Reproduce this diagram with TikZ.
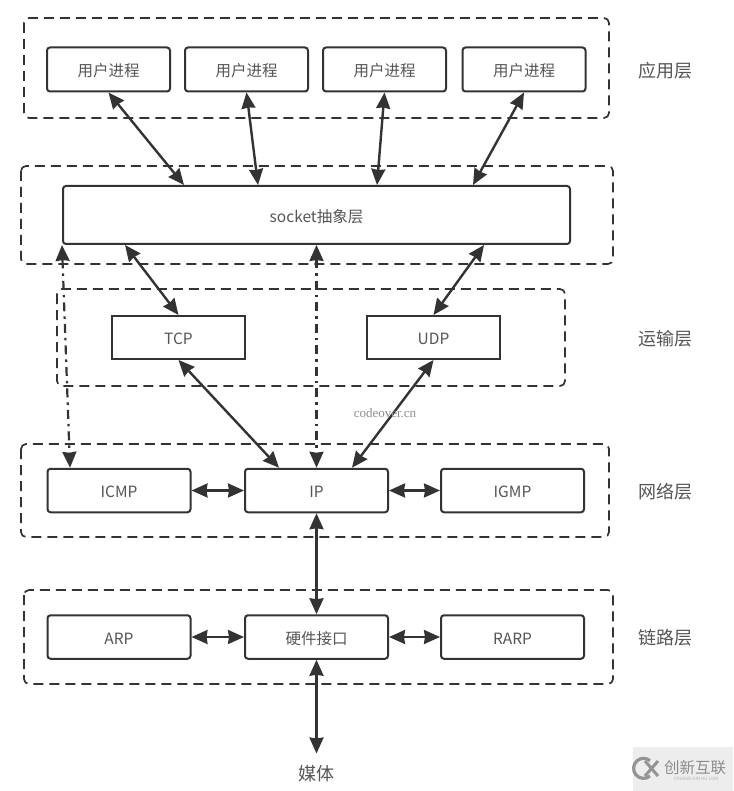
\documentclass[tikz,border=0pt]{standalone}
\usepackage{fontspec}
\setmainfont{Noto Sans CJK SC}
\newfontfamily\wmserif{Liberation Serif}
\usetikzlibrary{arrows.meta}
\definecolor{ink}{HTML}{333333}
\definecolor{txt}{HTML}{555555}
\tikzset{
  x=1pt,y=-1pt,
  box/.style={draw=ink,line width=2pt,rounded corners=3pt,inner sep=0pt,text=txt,font=\fontsize{15.5}{18}\selectfont,text height=15pt,text depth=0.5pt},
  sqbox/.style={box,rounded corners=0pt},
  wide/.style={box,minimum width=143pt,minimum height=43.5pt},
  proc/.style={box,minimum width=123pt,minimum height=44pt},
  trans/.style={sqbox,minimum width=133pt,minimum height=43pt},
  group/.style={draw=ink,line width=1.7pt,rounded corners=5pt,dash pattern=on 10pt off 6pt},
  layer/.style={text=txt,font=\fontsize{18}{21}\selectfont,inner sep=0pt},
  headtip/.tip={Stealth[inset=1pt,length=16pt,width=14pt,fill=ink]},
  biarrow/.style={draw=ink,line width=2.4pt,headtip-headtip},
  dotarrow/.style={biarrow,dash pattern=on 9pt off 5pt on 2.5pt off 5pt,line width=2.2pt},
}
\begin{document}
\begin{tikzpicture}
\useasboundingbox (0,0) rectangle (733,791);
% layer groups
\draw[group] (24,18) rectangle (609,118);
\draw[group] (21,166) rectangle (613,264);
\draw[group] (57,289) rectangle (565,386);
\draw[group] (21,444) rectangle (609,537);
\draw[group] (24,590) rectangle (613,684);
% nodes
\node[proc] (u1) at (108.5,69.5) {用户进程};
\node[proc] (u2) at (246.5,69.5) {用户进程};
\node[proc] (u3) at (384.5,69.5) {用户进程};
\node[proc] (u4) at (524,69.5) {用户进程};
\node[box,minimum width=507pt,minimum height=58pt] (sock) at (316.5,215) {socket抽象层};
\node[trans] (tcp) at (178.5,337.5) {TCP};
\node[trans] (udp) at (433.5,337.5) {UDP};
\node[wide] (icmp) at (119,490.5) {ICMP};
\node[wide] (ip) at (316.5,490.5) {IP};
\node[wide] (igmp) at (512.5,490.5) {IGMP};
\node[wide] (arp) at (119,637) {ARP};
\node[wide] (hw) at (316.5,637) {硬件接口};
\node[wide] (rarp) at (512.5,637) {RARP};
\node[layer] (media) at (316.5,774) {媒体};
\node[layer] (l1) at (665,71) {应用层};
\node[layer] (l2) at (665,339) {运输层};
\node[layer] (l3) at (665,492) {网络层};
\node[layer] (l4) at (665,638) {链路层};
% connectors
\draw[biarrow] (u1.south) -- ([xshift=-132.5pt]sock.north);
\draw[biarrow] (u2.south) -- ([xshift=-58.5pt]sock.north);
\draw[biarrow] (u3.south) -- ([xshift=60.5pt]sock.north);
\draw[biarrow] (u4.south) -- ([xshift=156.5pt]sock.north);
\draw[biarrow] ([xshift=-191.5pt]sock.south) -- (tcp.north);
\draw[biarrow] ([xshift=167.5pt]sock.south) -- (udp.north);
\draw[biarrow] (tcp.south) -- ([xshift=-37.5pt]ip.north);
\draw[biarrow] (udp.south) -- ([xshift=35.5pt]ip.north);
\draw[dotarrow] (sock.south west) -- ([xshift=-49pt]icmp.north);
\draw[dotarrow] (sock.south) -- (ip.north);
\draw[biarrow] (icmp.east) -- (ip.west);
\draw[biarrow] (ip.east) -- (igmp.west);
\draw[biarrow] (ip.south) -- (hw.north);
\draw[biarrow] (arp.east) -- (hw.west);
\draw[biarrow] (hw.east) -- (rarp.west);
\draw[biarrow] (hw.south) -- ([yshift=12pt]media.north);
% watermarks
\node[inner sep=0pt,text=black!45,font=\wmserif\fontsize{13}{15}\selectfont] (wm) at (385,413) {codeover.cn};
\fill[black!7] (633,747) rectangle (733,791);
\draw[black!42,line width=3.2pt] (650,776) arc[start angle=50,end angle=310,radius=10];
\draw[black!42,line width=3pt] (645,761) -- (658,776) (658,761) -- (645,776);
\node[inner sep=0pt,text=black!45,font=\fontsize{15.5}{18}\selectfont] (wm2) at (695,768) {创新互联};
\node[inner sep=0pt,text=black!30,font=\fontsize{4.5}{5}\selectfont] (wm3) at (696,779) {CHUANG XIN HU LIAN};
\end{tikzpicture}
\end{document}
